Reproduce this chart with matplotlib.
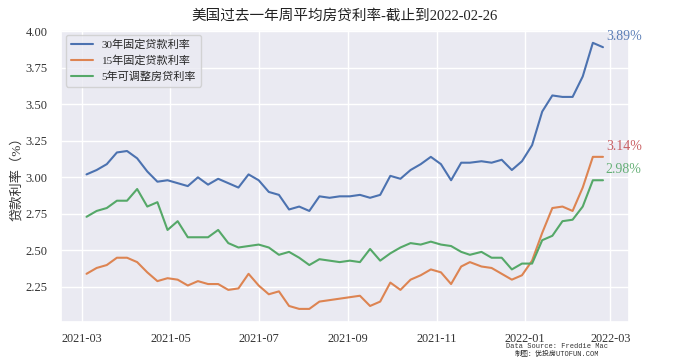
import matplotlib
matplotlib.use("Agg")
import matplotlib.pyplot as plt
import matplotlib.dates as mdates
import seaborn as sns
import pandas as pd

dates = [
    "2021-03-04", "2021-03-11", "2021-03-18", "2021-03-25",
    "2021-04-01", "2021-04-08", "2021-04-15", "2021-04-22", "2021-04-29",
    "2021-05-06", "2021-05-13", "2021-05-20", "2021-05-27",
    "2021-06-03", "2021-06-10", "2021-06-17", "2021-06-24",
    "2021-07-01", "2021-07-08", "2021-07-15", "2021-07-22", "2021-07-29",
    "2021-08-05", "2021-08-12", "2021-08-19", "2021-08-26",
    "2021-09-02", "2021-09-09", "2021-09-16", "2021-09-23", "2021-09-30",
    "2021-10-07", "2021-10-14", "2021-10-21", "2021-10-28",
    "2021-11-04", "2021-11-11", "2021-11-18", "2021-11-24",
    "2021-12-02", "2021-12-09", "2021-12-16", "2021-12-23", "2021-12-30",
    "2022-01-06", "2022-01-13", "2022-01-20", "2022-01-27",
    "2022-02-03", "2022-02-10", "2022-02-17", "2022-02-24",
]

rate_30y = [3.02, 3.05, 3.09, 3.17, 3.18, 3.13, 3.04, 2.97, 2.98, 2.96, 2.94, 3.00, 2.95,
            2.99, 2.96, 2.93, 3.02, 2.98, 2.90, 2.88, 2.78, 2.80, 2.77, 2.87, 2.86, 2.87,
            2.87, 2.88, 2.86, 2.88, 3.01, 2.99, 3.05, 3.09, 3.14, 3.09, 2.98, 3.10, 3.10,
            3.11, 3.10, 3.12, 3.05, 3.11, 3.22, 3.45, 3.56, 3.55, 3.55, 3.69, 3.92, 3.89]

rate_15y = [2.34, 2.38, 2.40, 2.45, 2.45, 2.42, 2.35, 2.29, 2.31, 2.30, 2.26, 2.29, 2.27,
            2.27, 2.23, 2.24, 2.34, 2.26, 2.20, 2.22, 2.12, 2.10, 2.10, 2.15, 2.16, 2.17,
            2.18, 2.19, 2.12, 2.15, 2.28, 2.23, 2.30, 2.33, 2.37, 2.35, 2.27, 2.39, 2.42,
            2.39, 2.38, 2.34, 2.30, 2.33, 2.43, 2.62, 2.79, 2.80, 2.77, 2.93, 3.14, 3.14]

rate_5arm = [2.73, 2.77, 2.79, 2.84, 2.84, 2.92, 2.80, 2.83, 2.64, 2.70, 2.59, 2.59, 2.59,
             2.64, 2.55, 2.52, 2.53, 2.54, 2.52, 2.47, 2.49, 2.45, 2.40, 2.44, 2.43, 2.42,
             2.43, 2.42, 2.51, 2.43, 2.48, 2.52, 2.55, 2.54, 2.56, 2.54, 2.53, 2.49, 2.47,
             2.49, 2.45, 2.45, 2.37, 2.41, 2.41, 2.57, 2.60, 2.70, 2.71, 2.80, 2.98, 2.98]

series_labels = ["30年固定贷款利率", "15年固定贷款利率", "5年可调整房贷利率"]
title = "美国过去一年周平均房贷利率-截止到2022-02-26"
ylabel = "贷款利率（%）"
footer_lines = ["Data Source: Freddie Mac", "制图：优投房UTOFUN.COM"]

sns.set_theme(style="darkgrid")
plt.rcParams['font.family'] = ['Liberation Serif', 'Noto Sans CJK SC', 'DejaVu Sans']
plt.rcParams['axes.unicode_minus'] = False

x = pd.to_datetime(dates)
colors = ["#4c72b0", "#dd8452", "#55a868"]
ann_colors = ["#4c72b0", "#c44e52", "#55a868"]

fig = plt.figure(figsize=(6.82, 3.6), dpi=100)
ax = fig.add_axes([0.089, 0.105, 0.833, 0.813])

for vals, lab, c, ac in zip([rate_30y, rate_15y, rate_5arm], series_labels, colors, ann_colors):
    ax.plot(x, vals, color=c, lw=1.5, label=lab)
    ax.annotate(f"{vals[-1]:.2f}%", xy=(x[-1], vals[-1]), xytext=(2, 3),
                textcoords="offset points", ha="left", va="bottom",
                color=ac, fontsize=10, alpha=0.9)

ax.xaxis.set_major_locator(mdates.MonthLocator(bymonth=[1, 3, 5, 7, 9, 11]))
ax.xaxis.set_major_formatter(mdates.DateFormatter("%Y-%m"))
ax.yaxis.set_major_formatter(matplotlib.ticker.FormatStrFormatter("%.2f"))
ax.tick_params(labelsize=9, colors="#333333")
ax.tick_params(axis="x", pad=1.5, labelsize=8.8)

ax.set_title(title, fontsize=10.5, color="#222222", pad=7)
ax.set_ylabel(ylabel, fontsize=9.5, color="#333333", labelpad=2)

leg = ax.legend(loc="upper left", fontsize=8, frameon=True)

fig.text(0.817, 0.037, footer_lines[0], fontsize=5.0, ha="center", va="center",
         family=['Liberation Mono', 'Noto Sans CJK SC'], color="#333333")
fig.text(0.817, 0.014, footer_lines[1], fontsize=5.0, ha="center", va="center",
         family=['Liberation Mono', 'Noto Sans CJK SC'], color="#333333")

fig.savefig("out.png", dpi=100)
